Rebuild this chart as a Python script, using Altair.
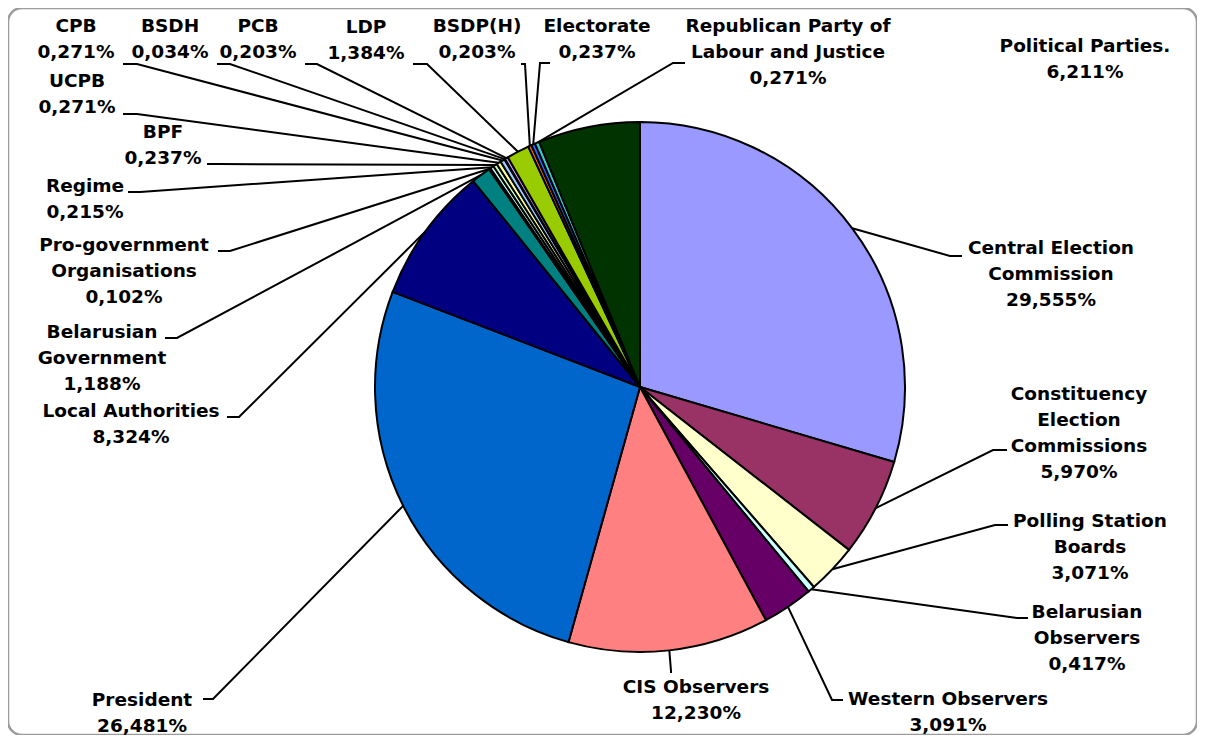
import math
import altair as alt
import pandas as pd

# ---------------- data ----------------
categories = [
    "Central Election Commission", "Constituency Election Commissions",
    "Polling Station Boards", "Belarusian Observers", "Western Observers",
    "CIS Observers", "President", "Local Authorities", "Belarusian Government",
    "Pro-government Organisations", "Regime", "BPF", "UCPB", "CPB", "BSDH",
    "PCB", "LDP", "BSDP(H)", "Electorate",
    "Republican Party of Labour and Justice", "Political Parties.",
]
values = [29.555, 5.970, 3.071, 0.417, 3.091, 12.230, 26.481, 8.324, 1.188,
          0.102, 0.215, 0.237, 0.271, 0.271, 0.034, 0.203, 1.384, 0.203,
          0.237, 0.271, 6.211]
colors = ["#9999FF", "#993366", "#FFFFCC", "#CCFFFF", "#660066", "#FF8080",
          "#0066CC", "#000080", "#008080", "#00CCFF", "#CCFFFF", "#CCFFCC",
          "#FFFF99", "#99CCFF", "#FF99CC", "#CC99FF", "#99CC00", "#FF6600",
          "#3366FF", "#33CCCC", "#003300"]
label_names = [
    ["Central Election", "Commission"], ["Constituency", "Election", "Commissions"],
    ["Polling Station", "Boards"], ["Belarusian", "Observers"], ["Western Observers"],
    ["CIS Observers"], ["President"], ["Local Authorities"], ["Belarusian", "Government"],
    ["Pro-government", "Organisations"], ["Regime"], ["BPF"], ["UCPB"], ["CPB"],
    ["BSDH"], ["PCB"], ["LDP"], ["BSDP(H)"], ["Electorate"],
    ["Republican Party of", "Labour and Justice"], ["Political Parties."],
]

# ---------------- layout (page pixels) ----------------
W, H = 1189, 727
OFF = 8
CX, CY, R = 640 - OFF, 387 - OFF, 265
FS = 18.5
LH = 26
# label centre x, first-line baseline y
label_x = [1051, 1079, 1090, 1087, 948, 696, 142, 131, 102, 124, 85, 163, 77,
           76, 170, 258, 366, 477, 597, 788, 1085]
label_y = [254, 400, 527, 618, 705, 693, 706, 417, 338, 251, 192, 138, 87,
           32, 32, 32, 33, 32, 32, 32, 52]
# leader tick: outer end (x, y) and inner end (x, y); None = no leader
tick = [((962, 256), (950, 256)), ((1007, 450), (993, 450)),
        ((1008, 525), (995, 525)), ((1028, 618), (1017, 618)),
        ((843, 700), (832, 700)), ((671, 673), (671, 671)),
        ((203, 699), (213, 699)), ((227, 417), (239, 417)),
        ((165, 338), (177, 338)), ((218, 251), (230, 251)),
        ((128, 192), (140, 192)), ((207, 164), (220, 164)),
        ((123, 114), (137, 114)), ((123, 64), (137, 64)),
        ((217, 64), (230, 64)), ((305, 64), (317, 64)),
        ((413, 64), (427, 64)), ((521, 64), (525, 64)),
        ((550, 63), (540, 63)), ((685, 63), (673, 63)), None]

# ---------------- tables ----------------
total = sum(values)
pie_df = pd.DataFrame({"cat": categories, "value": values,
                       "idx": list(range(len(values)))})

lab_rows, line_rows = [], []
cum = 0.0
for i, (c, v) in enumerate(zip(categories, values)):
    pct = f"{v:.3f}".replace(".", ",") + "%"
    lines = label_names[i] + [pct]
    lab_rows.append({"cat": c, "lines": lines,
                     "x": label_x[i] - OFF,
                     "y": label_y[i] - OFF - round(0.79 * FS)})
    mid = 2 * math.pi * (cum + v / 2) / total
    cum += v
    if tick[i] is not None:
        (x1, y1), (x2, y2) = tick[i]
        ex = CX + R * math.sin(mid)
        ey = CY - R * math.cos(mid)
        pts = [(x1 - OFF, y1 - OFF), (x2 - OFF, y2 - OFF), (ex, ey)]
        for k, (px, py) in enumerate(pts):
            line_rows.append({"cat": c, "k": k, "x": px, "y": py})

lab_df = pd.DataFrame(lab_rows)
line_df = pd.DataFrame(line_rows)

xs = alt.Scale(domain=[0, W], nice=False, zero=False)
ys = alt.Scale(domain=[0, H], nice=False, zero=False, reverse=True)

leaders = alt.Chart(line_df).mark_line(color="black", strokeWidth=2).encode(
    x=alt.X("x:Q", scale=xs, axis=None),
    y=alt.Y("y:Q", scale=ys, axis=None),
    detail="cat:N",
    order="k:Q",
)

pie = alt.Chart(pie_df).mark_arc(radius=R, stroke="black", strokeWidth=2).encode(
    theta=alt.Theta("value:Q", stack=True),
    order=alt.Order("idx:Q", sort="ascending"),
    color=alt.Color("cat:N", scale=alt.Scale(domain=categories, range=colors), legend=None),
    x=alt.value(CX),
    y=alt.value(CY),
)

labels = alt.Chart(lab_df).mark_text(
    align="center", baseline="top", lineHeight=LH, font="DejaVu Sans",
    fontWeight="bold", fontSize=FS, color="black",
).encode(
    x=alt.X("x:Q", scale=xs, axis=None),
    y=alt.Y("y:Q", scale=ys, axis=None),
    text="lines:N",
)

chart = alt.layer(leaders, pie, labels).properties(
    width=W, height=H, autosize=alt.AutoSizeParams(type="none"), padding=0,
    background="white",
).configure_view(
    stroke="#9c9c9c", strokeWidth=2.5, cornerRadius=14,
)

chart.save("out.html", embed_options={"renderer": "svg", "actions": False})
